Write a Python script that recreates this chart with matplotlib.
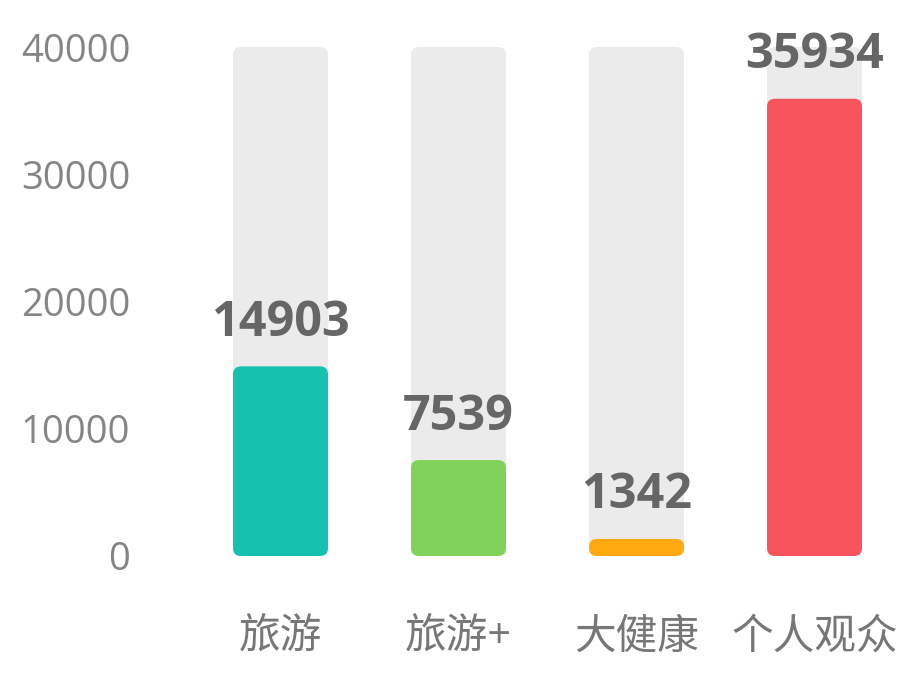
import matplotlib
matplotlib.use("Agg")
import matplotlib.pyplot as plt
from matplotlib.patches import FancyBboxPatch

plt.rcParams["font.family"] = ["Open Sans", "Noto Sans CJK SC", "DejaVu Sans"]

categories = ["旅游", "旅游+", "大健康", "个人观众"]
values = [14903, 7539, 1342, 35934]
bar_colors = ["#16c1b0", "#80d25a", "#ffa80f", "#f7545e"]
y_max = 40000
y_ticks = [0, 10000, 20000, 30000, 40000]

C_BG = "#ebebeb"
C_TICK = "#858585"
C_VAL = "#666666"

W, H = 922, 676
fig = plt.figure(figsize=(W / 100, H / 100), dpi=100, facecolor="white")
# axes in pixel coordinates
left, right, bottom, top = 191.5, 903.5, 120, 629
ax = fig.add_axes([left / W, bottom / H, (right - left) / W, (top - bottom) / H])

ax.set_xlim(-0.5, len(categories) - 0.5)
ax.set_ylim(0, y_max)

bar_w = 95 / 178
radius_px = 8
x_per_px = 1 / 178
y_per_px = y_max / (top - bottom)
aspect = y_per_px / x_per_px
r = radius_px * x_per_px


def rounded_bar(x, h, color, z):
    p = FancyBboxPatch((x - bar_w / 2, 0), bar_w, h,
                       boxstyle=f"round,pad=0,rounding_size={r}",
                       mutation_aspect=aspect, linewidth=0,
                       facecolor=color, zorder=z)
    ax.add_patch(p)


for i, (v, c) in enumerate(zip(values, bar_colors)):
    rounded_bar(i, y_max, C_BG, 1)
    rounded_bar(i, v, c, 2)
    ax.annotate(str(v), (i, v), xytext=(0, 22), textcoords="offset points",
                ha="center", va="baseline", fontsize=35, fontweight="bold",
                color=C_VAL, zorder=3)

for sp in ax.spines.values():
    sp.set_visible(False)
ax.set_yticks(y_ticks)
ax.set_yticklabels([str(t) for t in y_ticks])
ax.set_xticks(range(len(categories)))
ax.set_xticklabels(categories)
ax.tick_params(axis="y", length=0, pad=44, labelsize=27.5, labelcolor=C_TICK)
ax.tick_params(axis="x", length=0, pad=44, labelsize=30, labelcolor="#777777")
ax.set_facecolor("white")

fig.savefig("out.png", dpi=100, facecolor="white")
